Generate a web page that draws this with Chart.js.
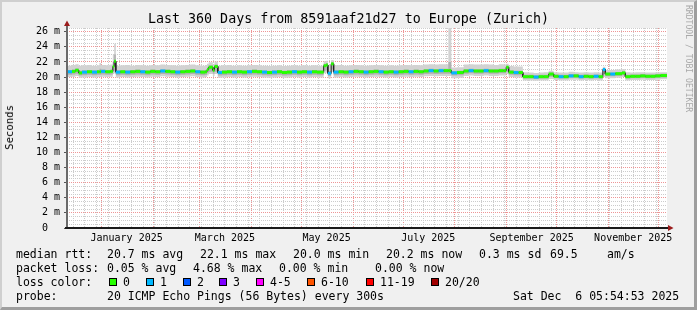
<!DOCTYPE html>
<html>
<head>
<meta charset="utf-8">
<script src="https://cdn.jsdelivr.net/npm/chart.js@4.4.1/dist/chart.umd.min.js"></script>
<style>
  body { margin: 0; }
  #wrap { position: relative; width: 697px; height: 310px; background: #f0f0f0; overflow: hidden;
          font-family: 'DejaVu Sans Mono', monospace; color: #000; }
  #c { position: absolute; left: 0; top: 0; }
  .t { position: absolute; white-space: pre; }
  .lg { font-size: 11.5px; line-height: 14px; }
  .box { position: absolute; width: 8px; height: 8px; box-sizing: border-box; border: 1px solid #000; top: 278px; }
  #frame { position: absolute; left: 0; top: 0; width: 697px; height: 310px; box-sizing: border-box;
           border-top: 2px solid #cfcfcf; border-left: 2px solid #cfcfcf;
           border-right: 3px solid #9e9e9e; border-bottom: 3px solid #9e9e9e; pointer-events: none; }
</style>
</head>
<body>
<div id="wrap">
  <canvas id="c" width="697" height="310"></canvas>
  <div class="t" style="left:0;width:697px;text-align:center;top:12px;font-size:13.33px;line-height:14px;">Last 360 Days from 8591aaf21d27 to Europe (Zurich)</div>
  <div class="t" style="left:4px;top:105px;font-size:10.67px;line-height:12px;writing-mode:vertical-rl;transform:rotate(180deg);">Seconds</div>
  <div class="t" style="left:684px;top:5px;font-size:8.1px;line-height:9px;color:#a8a8a8;writing-mode:vertical-rl;">RRDTOOL / TOBI OETIKER</div>

  <div class="t lg" style="left:16px;top:247px">median rtt:</div>
  <div class="t lg" style="left:107px;top:247px">20.7 ms avg</div>
  <div class="t lg" style="left:200px;top:247px">22.1 ms max</div>
  <div class="t lg" style="left:293px;top:247px">20.0 ms min</div>
  <div class="t lg" style="left:386px;top:247px">20.2 ms now</div>
  <div class="t lg" style="left:479px;top:247px">0.3 ms sd</div>
  <div class="t lg" style="left:550px;top:247px">69.5</div>
  <div class="t lg" style="left:607px;top:247px">am/s</div>

  <div class="t lg" style="left:16px;top:261px">packet loss:</div>
  <div class="t lg" style="left:107px;top:261px">0.05 % avg</div>
  <div class="t lg" style="left:193px;top:261px">4.68 % max</div>
  <div class="t lg" style="left:279px;top:261px">0.00 % min</div>
  <div class="t lg" style="left:375px;top:261px">0.00 % now</div>

  <div class="t lg" style="left:16px;top:275px">loss color:</div>
  <div id="losslegend"></div>

  <div class="t lg" style="left:16px;top:289px">probe:</div>
  <div class="t lg" style="left:107px;top:289px">20 ICMP Echo Pings (56 Bytes) every 300s</div>
  <div class="t lg" style="left:513px;top:289px">Sat Dec  6 05:54:53 2025</div>

  <div id="frame"></div>
</div>
<script>
// days since start of graph (Dec 11 2024 05:54:53)
const days = [0, 3, 5, 7, 9, 12, 15, 18, 19.5, 20.5, 23, 26, 27.5, 28.3, 29.3, 32, 35, 38, 41, 44,
  47, 50, 53, 56, 59, 62, 65, 68, 71, 74, 77, 80, 83, 84, 85, 87.5, 88.5, 90.5, 93, 96,
  99, 102, 105, 108, 111, 114, 117, 120, 123, 126, 129, 132, 135, 138, 141, 144, 147, 150, 154, 155.5,
  156.5, 158.5, 160, 163, 166, 169, 172, 175, 178, 181, 184, 187, 190, 193, 196, 199, 202, 205, 208, 211,
  214, 217, 220, 223, 226, 228.8, 230.6, 234, 238, 241, 244, 247, 250, 253, 256, 259, 262, 263.5, 265, 268,
  271, 273.5, 277, 280, 283, 286, 289, 292, 295, 298, 301, 304, 307, 310, 313, 316, 319, 321.5, 323, 326,
  329, 333, 335, 338, 341, 344, 347, 350, 353, 356, 360];

// median rtt (ms)
const median = [20.70, 20.75, 20.90, 20.55, 20.65, 20.70, 20.65, 20.70, 20.70, 20.75, 20.70, 20.75, 21.40, 22.10, 20.65, 20.70, 20.65, 20.70, 20.75, 20.70,
  20.65, 20.75, 20.70, 20.80, 20.75, 20.70, 20.65, 20.70, 20.75, 20.80, 20.70, 20.65, 20.70, 21.00, 21.30, 20.90, 21.40, 20.60, 20.65, 20.70,
  20.65, 20.70, 20.65, 20.70, 20.75, 20.70, 20.65, 20.60, 20.65, 20.70, 20.60, 20.65, 20.70, 20.65, 20.70, 20.65, 20.70, 20.65, 21.50, 21.60,
  20.50, 21.75, 20.65, 20.70, 20.65, 20.70, 20.75, 20.70, 20.65, 20.70, 20.75, 20.70, 20.65, 20.70, 20.65, 20.70, 20.75, 20.70, 20.75, 20.70,
  20.80, 20.85, 20.80, 20.85, 20.85, 20.85, 20.55, 20.60, 20.80, 20.85, 20.80, 20.80, 20.85, 20.80, 20.80, 20.85, 20.85, 21.30, 20.65, 20.60,
  20.60, 20.05, 20.05, 20.00, 20.05, 20.05, 20.40, 20.10, 20.05, 20.05, 20.15, 20.15, 20.05, 20.10, 20.05, 20.10, 20.05, 21.00, 20.40, 20.40,
  20.45, 20.55, 20.05, 20.10, 20.10, 20.15, 20.10, 20.10, 20.15, 20.20, 20.20];

// packet loss (pings lost of 20)
const loss = [1, 0, 0, 0, 1, 0, 1, 0, 0, 1, 0, 0, 0, 0, 1, 0, 1, 0, 0, 1,
  0, 0, 0, 1, 0, 0, 1, 0, 0, 0, 1, 0, 0, 0, 0, 0, 0, 1, 0, 0,
  1, 0, 0, 1, 0, 0, 1, 0, 1, 0, 0, 0, 1, 0, 0, 1, 0, 0, 0, 0,
  1, 0, 1, 0, 0, 1, 0, 0, 1, 0, 0, 1, 0, 0, 1, 0, 0, 1, 0, 0,
  0, 1, 0, 1, 0, 0, 1, 0, 0, 1, 0, 0, 1, 0, 0, 0, 0, 0, 0, 1,
  0, 0, 0, 1, 0, 0, 0, 0, 1, 0, 1, 0, 1, 0, 0, 1, 0, 1, 0, 1,
  0, 0, 0, 0, 0, 0, 0, 0, 0, 0, 0];

// smoke: outer and inner ranges of the ping distribution (ms)
const smokeOuterHi = [21.50, 21.60, 21.70, 21.50, 21.55, 21.60, 21.50, 21.55, 21.85, 21.60, 21.55, 21.65, 23.00, 24.40, 21.50, 21.55, 21.60, 21.50, 21.60, 21.55,
  21.50, 21.60, 21.55, 21.65, 21.60, 21.55, 21.50, 21.55, 21.60, 21.65, 21.55, 21.50, 21.60, 21.75, 21.95, 21.65, 22.05, 21.50, 21.55, 21.60,
  21.50, 21.55, 21.50, 21.55, 21.60, 21.55, 21.50, 21.45, 21.50, 21.55, 21.45, 21.50, 21.55, 21.50, 21.55, 21.50, 21.55, 21.50, 22.10, 22.15,
  21.55, 22.25, 21.55, 21.60, 21.50, 21.55, 21.60, 21.55, 21.50, 21.55, 21.60, 21.55, 21.50, 21.55, 21.50, 21.55, 21.60, 21.55, 21.60, 21.55,
  21.65, 21.70, 21.65, 21.70, 21.70, 26.50, 21.25, 21.30, 21.65, 21.70, 21.65, 21.65, 21.70, 21.65, 21.60, 21.70, 21.65, 21.75, 21.45, 21.40,
  21.40, 20.65, 20.60, 20.55, 20.60, 20.65, 20.85, 20.65, 20.60, 20.60, 20.70, 20.65, 20.60, 20.65, 20.60, 20.65, 20.60, 21.35, 20.95, 20.95,
  21.00, 21.05, 20.65, 20.60, 20.65, 20.65, 20.60, 20.60, 20.65, 20.65, 20.65];
const smokeInnerHi = [20.95, 21.00, 21.15, 20.85, 20.90, 20.95, 20.90, 20.95, 21.10, 21.00, 20.95, 21.00, 22.00, 23.00, 20.90, 20.95, 20.90, 20.95, 21.00, 20.95,
  20.90, 21.00, 20.95, 21.05, 21.00, 20.95, 20.90, 20.95, 21.00, 21.05, 20.95, 20.90, 20.95, 21.25, 21.55, 21.15, 21.65, 20.85, 20.90, 20.95,
  20.90, 20.95, 20.90, 20.95, 21.00, 20.95, 20.90, 20.85, 20.90, 20.95, 20.85, 20.90, 20.95, 20.90, 20.95, 20.90, 20.95, 20.90, 21.75, 21.85,
  20.80, 21.95, 20.90, 20.95, 20.90, 20.95, 21.00, 20.95, 20.90, 20.95, 21.00, 20.95, 20.90, 20.95, 20.90, 20.95, 21.00, 20.95, 21.00, 20.95,
  21.05, 21.10, 21.05, 21.10, 21.10, 22.00, 20.80, 20.85, 21.05, 21.10, 21.05, 21.05, 21.10, 21.05, 21.05, 21.10, 21.10, 21.50, 20.90, 20.85,
  20.85, 20.30, 20.30, 20.25, 20.30, 20.30, 20.60, 20.35, 20.30, 20.30, 20.40, 20.40, 20.30, 20.35, 20.30, 20.35, 20.30, 21.10, 20.60, 20.60,
  20.65, 20.75, 20.30, 20.35, 20.35, 20.40, 20.35, 20.35, 20.40, 20.45, 20.45];
const smokeInnerLo = [20.30, 20.35, 20.45, 20.20, 20.25, 20.30, 20.25, 20.30, 20.30, 20.35, 20.30, 20.35, 20.75, 20.85, 20.25, 20.30, 20.25, 20.30, 20.35, 20.30,
  20.25, 20.35, 20.30, 20.40, 20.35, 20.30, 20.25, 20.30, 20.35, 20.40, 20.30, 20.25, 20.30, 20.50, 20.70, 20.45, 20.70, 20.20, 20.25, 20.30,
  20.25, 20.30, 20.25, 20.30, 20.35, 20.30, 20.25, 20.20, 20.25, 20.30, 20.20, 20.25, 20.30, 20.25, 20.30, 20.25, 20.30, 20.25, 20.85, 20.90,
  20.15, 21.00, 20.25, 20.30, 20.25, 20.30, 20.35, 20.30, 20.25, 20.30, 20.35, 20.30, 20.25, 20.30, 20.25, 20.30, 20.35, 20.30, 20.35, 20.30,
  20.40, 20.45, 20.40, 20.45, 20.45, 20.45, 20.20, 20.25, 20.45, 20.50, 20.45, 20.45, 20.50, 20.45, 20.45, 20.50, 20.50, 20.70, 20.30, 20.25,
  20.25, 19.80, 19.80, 19.75, 19.80, 19.80, 20.05, 19.85, 19.80, 19.80, 19.90, 19.90, 19.80, 19.85, 19.80, 19.85, 19.80, 20.35, 20.10, 20.10,
  20.15, 20.25, 19.80, 19.85, 19.85, 19.90, 19.85, 19.85, 19.90, 19.95, 19.95];
const smokeOuterLo = [20.00, 20.05, 20.15, 19.90, 19.95, 20.00, 19.95, 20.00, 20.00, 20.05, 20.00, 20.05, 20.45, 20.50, 19.95, 20.00, 19.95, 20.00, 20.05, 20.00,
  19.95, 20.05, 20.00, 20.10, 20.05, 20.00, 19.95, 20.00, 20.05, 20.10, 20.00, 19.95, 20.00, 20.20, 20.40, 20.15, 20.40, 19.90, 19.95, 20.00,
  19.95, 20.00, 19.95, 20.00, 20.05, 20.00, 19.95, 19.90, 19.95, 20.00, 19.90, 19.95, 20.00, 19.95, 20.00, 19.95, 20.00, 19.95, 20.50, 20.60,
  19.85, 20.70, 19.95, 20.00, 19.95, 20.00, 20.05, 20.00, 19.95, 20.00, 20.05, 20.00, 19.95, 20.00, 19.95, 20.00, 20.05, 20.00, 20.05, 20.00,
  20.10, 20.15, 20.10, 20.15, 20.15, 20.15, 19.85, 19.90, 20.15, 20.20, 20.15, 20.15, 20.20, 20.15, 20.15, 20.20, 20.20, 20.40, 20.00, 19.95,
  19.95, 19.55, 19.55, 19.50, 19.55, 19.55, 19.75, 19.60, 19.55, 19.55, 19.65, 19.65, 19.55, 19.60, 19.55, 19.60, 19.55, 20.00, 19.85, 19.85,
  19.90, 20.00, 19.55, 19.60, 19.60, 19.65, 19.60, 19.60, 19.65, 19.70, 19.70];

const xTickLabels = ['January 2025', 'March 2025', 'May 2025', 'July 2025', 'September 2025', 'November 2025'];
const lossLabels = ['0', '1', '2', '3', '4-5', '6-10', '11-19', '20/20'];
const lossColors = ['#26ff00', '#00b8ff', '#0059ff', '#7e00ff', '#ff00ff', '#ff5500', '#ff0000', '#a10000'];

// --- legend boxes ---
const boxX = [109, 146, 183, 219, 256, 307, 366, 431];
const lossLegend = document.getElementById('losslegend');
lossLabels.forEach((lab, i) => {
  const b = document.createElement('div');
  b.className = 'box';
  b.style.left = boxX[i] + 'px';
  b.style.background = lossColors[i];
  lossLegend.appendChild(b);
  const t = document.createElement('div');
  t.className = 't lg';
  t.style.left = (boxX[i] + 14) + 'px';
  t.style.top = '275px';
  t.textContent = lab;
  lossLegend.appendChild(t);
});

// --- time axis helpers ---
const START = Date.UTC(2024, 11, 11, 5, 54, 53);
const dayOf = (y, m, d) => (Date.UTC(y, m - 1, d) - START) / 86400000;

const monthStarts = [];
for (let m = 1; m <= 12; m++) monthStarts.push(dayOf(2025, m, 1));

// minor axis: weekly lines plus the (grid-less) month label positions
const xTicks = [];
for (let d = dayOf(2024, 12, 15); d < 360; d += 7) {
  if (!monthStarts.some(ms => Math.abs(ms - d) < 0.01)) xTicks.push({ value: d, kind: 'week', text: '' });
}
[1, 3, 5, 7, 9, 11].forEach((m, i) => xTicks.push({ value: dayOf(2025, m, 1) + 15, kind: 'label', text: xTickLabels[i] }));
xTicks.sort((a, b) => a.value - b.value);

const yTicks = [];
for (let v = 0; v <= 26.5; v += 0.5) yTicks.push({ value: v });

const RED = '#ee9595';
const GRAY = '#cccccc';
const NONE = 'rgba(0,0,0,0)';

// --- datasets built from the arrays (each sample held until the next one) ---
const steps = arr => {
  const pts = [];
  for (let i = 0; i < days.length - 1; i++) pts.push({ x: days[i], y: arr[i] }, { x: days[i + 1], y: arr[i] });
  return pts;
};
const colorPts = [];
for (let i = 0; i < days.length - 1; i++) {
  colorPts.push({ x: days[i], y: median[i] }, { x: days[i + 1], y: median[i] }, { x: days[i + 1], y: null });
}

const frame = {
  id: 'frame',
  beforeDraw(chart) {
    const { ctx, chartArea: a } = chart;
    ctx.save();
    ctx.fillStyle = '#ffffff';
    ctx.fillRect(a.left, a.top, a.right - a.left, a.bottom - a.top);
    ctx.restore();
  },
  afterDatasetsDraw(chart) {
    const { ctx, chartArea: a } = chart;
    ctx.save();
    ctx.strokeStyle = '#6a6a6a';
    ctx.lineWidth = 2;
    ctx.beginPath(); ctx.moveTo(a.left, a.bottom); ctx.lineTo(a.left, a.top - 2); ctx.stroke();
    ctx.strokeStyle = '#1a1a1a';
    ctx.beginPath(); ctx.moveTo(a.left - 2, a.bottom); ctx.lineTo(a.right + 2, a.bottom); ctx.stroke();
    ctx.fillStyle = '#9b1c1c';
    ctx.beginPath();
    ctx.moveTo(a.left - 3, a.top - 2); ctx.lineTo(a.left + 3, a.top - 2); ctx.lineTo(a.left, a.top - 7.5);
    ctx.closePath(); ctx.fill();
    ctx.beginPath();
    ctx.moveTo(a.right + 1, a.bottom - 3); ctx.lineTo(a.right + 1, a.bottom + 3); ctx.lineTo(a.right + 6.5, a.bottom);
    ctx.closePath(); ctx.fill();
    ctx.restore();
  }
};

Chart.defaults.font.family = "'DejaVu Sans Mono', monospace";

new Chart(document.getElementById('c'), {
  type: 'line',
  data: {
    datasets: [
      {
        data: colorPts, borderWidth: 3, borderColor: lossColors[0], borderCapStyle: 'butt',
        spanGaps: false, fill: false,
        segment: { borderColor: c => lossColors[loss[Math.floor(c.p0DataIndex / 3)]] }
      },
      { data: steps(median), borderWidth: 1, borderColor: '#202020', fill: false },
      { data: steps(smokeInnerHi), borderWidth: 0, borderColor: NONE, backgroundColor: '#b0b0b0', fill: '+1' },
      { data: steps(smokeInnerLo), borderWidth: 0, borderColor: NONE, fill: false },
      { data: steps(smokeOuterHi), borderWidth: 0, borderColor: NONE, backgroundColor: '#d2d2d2', fill: '+1' },
      { data: steps(smokeOuterLo), borderWidth: 0, borderColor: NONE, fill: false }
    ]
  },
  options: {
    responsive: false,
    animation: false,
    devicePixelRatio: 1,
    layout: { padding: { left: 0, top: 28, right: 30, bottom: 0 } },
    elements: { point: { radius: 0, hoverRadius: 0 }, line: { tension: 0 } },
    plugins: { legend: { display: false }, tooltip: { enabled: false } },
    events: [],
    scales: {
      x: {
        type: 'linear', min: 0, max: 360, position: 'bottom', weight: 1,
        afterBuildTicks: s => { s.ticks = xTicks.map(t => ({ value: t.value, kind: t.kind, text: t.text })); },
        afterFit: s => { s.height = 82; },
        ticks: {
          autoSkip: false, maxRotation: 0, minRotation: 0, padding: 1,
          color: '#000', font: { size: 10 },
          callback: (v, i, ticks) => ticks[i].text || ''
        },
        grid: {
          lineWidth: 1, tickLength: 3,
          color: c => (c.tick && c.tick.kind === 'week') ? GRAY : NONE,
          tickColor: NONE
        },
        border: { display: false, dash: [1, 1] }
      },
      months: {
        type: 'linear', min: 0, max: 360, position: 'bottom', weight: 2,
        afterBuildTicks: s => { s.ticks = monthStarts.map(v => ({ value: v })); },
        afterFit: s => { s.height = 0; },
        ticks: { display: false, autoSkip: false },
        grid: { lineWidth: 1, drawTicks: false, color: RED },
        border: { display: false, dash: [1, 1] }
      },
      y: {
        type: 'linear', min: 0, max: 26.5,
        afterBuildTicks: s => { s.ticks = yTicks.map(t => ({ ...t })); },
        afterFit: s => { s.width = 67; },
        ticks: {
          autoSkip: false, padding: 4, color: '#000', font: { size: 10 },
          callback: v => (v % 2 === 0) ? (v === 0 ? '0  ' : v + ' m') : ''
        },
        grid: {
          lineWidth: 1, tickLength: 3,
          color: c => c.tick ? (c.tick.value % 2 === 0 ? RED : GRAY) : NONE,
          tickColor: c => c.tick && c.tick.value % 2 === 0 ? '#555' : NONE
        },
        border: { display: false, dash: [1, 1] }
      }
    }
  },
  plugins: [frame]
});
</script>
</body>
</html>
